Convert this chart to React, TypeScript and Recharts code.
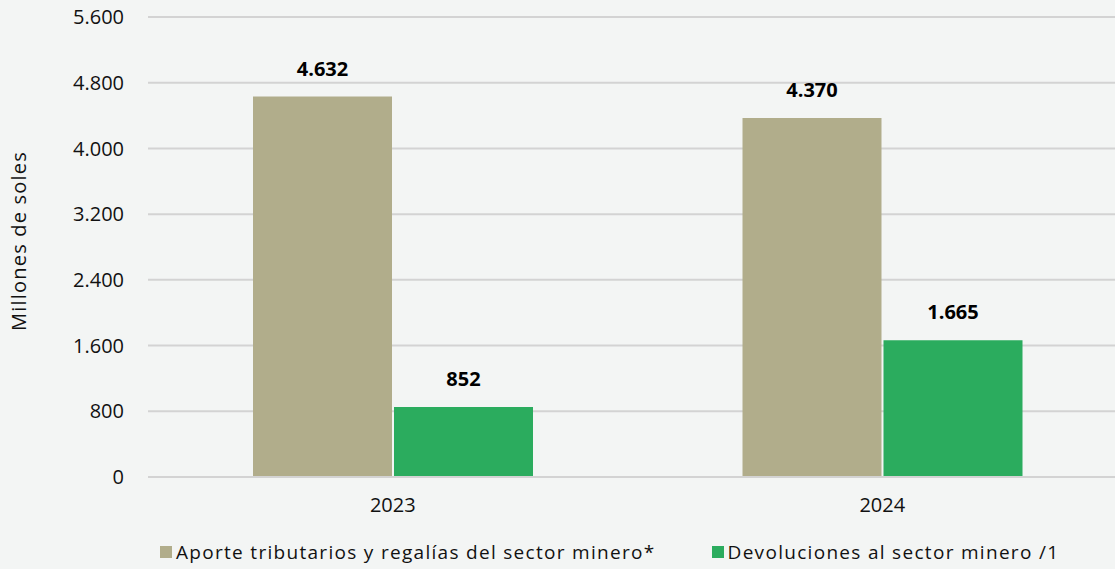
import { BarChart, Bar, XAxis, YAxis, CartesianGrid, Legend, LabelList, Label } from 'recharts';

const years = ['2023', '2024'];
const aporte = [4632, 4370];
const devoluciones = [852, 1665];
const yTicks = [0, 800, 1600, 2400, 3200, 4000, 4800, 5600];

const seriesNames = ['Aporte tributarios y regalías del sector minero*', 'Devoluciones al sector minero /1'];
const colors = ['#b1ad8b', '#2bac5e'];

const data = years.map((y, i) => ({ year: y, aporte: aporte[i], devoluciones: devoluciones[i] }));

const FONT = '"Open Sans", "Noto Sans", sans-serif';

const fmt = (v: number) => v.toLocaleString('de-DE');

function LegendContent() {
  return (
    <div style={{ display: 'flex', fontFamily: FONT, fontSize: 19, letterSpacing: 1.3, color: '#111', whiteSpace: 'nowrap', lineHeight: '26px' }}>
      {seriesNames.map((n, i) => (
        <div key={n} style={{ display: 'flex', alignItems: 'center', marginRight: i === 0 ? 56 : 0 }}>
          <span style={{ display: 'inline-block', width: 12, height: 12, background: colors[i], marginRight: 4 }} />
          <span>{n}</span>
        </div>
      ))}
    </div>
  );
}

export default function App() {
  return (
    <div style={{ position: 'absolute', left: 0, top: 0, width: 1115, height: 569, overflow: 'hidden', background: '#f3f5f4' }}>
      <BarChart
        width={1127}
        height={569}
        data={data}
        margin={{ top: 17, right: 0, left: 0, bottom: 36 }}
        barCategoryGap={105}
        barGap={2}
      >
        <CartesianGrid vertical={false} stroke="#d3d3d3" strokeWidth={2} />
        <XAxis
          dataKey="year"
          height={30}
          axisLine={{ stroke: '#d3d3d3', strokeWidth: 2 }}
          tickLine={false}
          tickSize={0}
          tickMargin={21}
          tick={{ fill: '#111', fontSize: 20, fontFamily: FONT }}
        />
        <YAxis
          width={148}
          domain={[0, 5600]}
          ticks={yTicks}
          interval={0}
          axisLine={false}
          tickLine={false}
          tickSize={0}
          tickMargin={24}
          tickFormatter={fmt}
          tick={{ fill: '#111', fontSize: 20, fontFamily: FONT }}
        >
          <Label
            value="Millones de soles"
            angle={-90}
            position="insideLeft"
            offset={19}
            dy={-6}
            style={{ textAnchor: 'middle', fill: '#111', fontSize: 20, letterSpacing: 1.2, fontFamily: FONT }}
          />
        </YAxis>
        <Legend
          verticalAlign="bottom"
          align="left"
          content={<LegendContent />}
          wrapperStyle={{ left: 160, bottom: 4, width: 'auto' }}
        />
        <Bar dataKey="aporte" name={seriesNames[0]} fill={colors[0]} isAnimationActive={false}>
          <LabelList
            dataKey="aporte"
            position="top"
            offset={21}
            formatter={(v: any) => fmt(Number(v))}
            style={{ fill: '#000', fontSize: 20, fontWeight: 700, fontFamily: FONT }}
          />
        </Bar>
        <Bar dataKey="devoluciones" name={seriesNames[1]} fill={colors[1]} isAnimationActive={false}>
          <LabelList
            dataKey="devoluciones"
            position="top"
            offset={21}
            formatter={(v: any) => fmt(Number(v))}
            style={{ fill: '#000', fontSize: 20, fontWeight: 700, fontFamily: FONT }}
          />
        </Bar>
      </BarChart>
    </div>
  );
}
